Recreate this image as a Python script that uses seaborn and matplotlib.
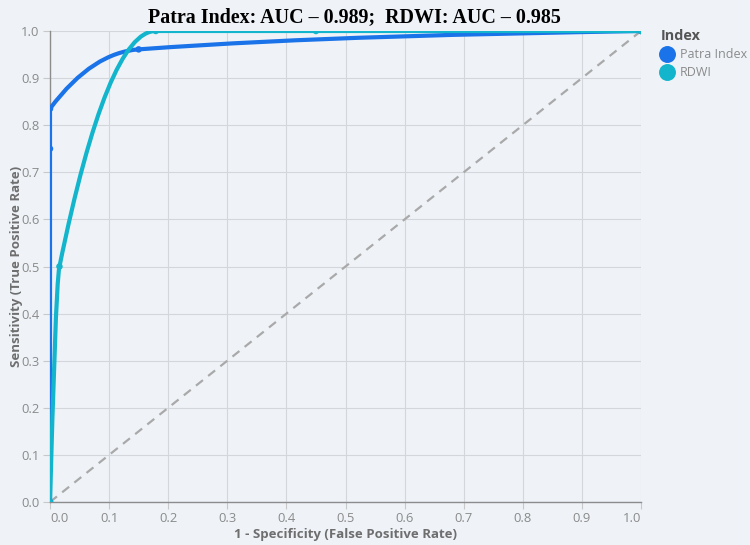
import numpy as np
import pandas as pd
import seaborn as sns
import matplotlib.pyplot as plt
from matplotlib.path import Path
from matplotlib.patches import PathPatch

# ROC points
patra_fpr = [0.0, 0.0, 0.0, 0.15, 1.0]
patra_tpr = [0.0, 0.75, 0.835, 0.961, 1.0]
rdwi_fpr = [0.0, 0.016, 0.179, 0.45, 1.0]
rdwi_tpr = [0.0, 0.5, 1.0, 1.0, 1.0]

index_names = ['Patra Index', 'RDWI']
index_colors = ['#1a73e8', '#12b5cb']
diag = [0.0, 1.0]
ticks = [0.0, 0.1, 0.2, 0.3, 0.4, 0.5, 0.6, 0.7, 0.8, 0.9, 1.0]
tick_labels = ['0.0', '0.1', '0.2', '0.3', '0.4', '0.5', '0.6', '0.7', '0.8', '0.9', '1.0']
title = 'Patra Index: AUC – 0.989;  RDWI: AUC – 0.985'

BG = '#eff3f8'
GRID = '#d3d6da'


def monotone_path(xs, ys):
    # monotone cubic interpolation (same rule as d3 curveMonotoneX) as a bezier path
    x = np.asarray(xs, float)
    y = np.asarray(ys, float)
    n = len(x)
    h = np.diff(x)
    dy = np.diff(y)
    s = [dy[i] / h[i] if h[i] else np.inf * np.sign(dy[i]) for i in range(n - 1)]
    t = np.zeros(n)
    for i in range(1, n - 1):
        h0, h1 = h[i - 1], h[i]
        if h0 == 0 and h1 == 0:
            continue
        p = (s[i - 1] * h1 + s[i] * h0) / (h0 + h1)
        t[i] = (np.sign(s[i - 1]) + np.sign(s[i])) * min(abs(s[i - 1]), abs(s[i]), 0.5 * abs(p))
    t[0] = (3 * s[0] - t[1]) / 2 if h[0] else t[1]
    t[-1] = (3 * s[-1] - t[-2]) / 2 if h[-1] else t[-2]

    verts = [(x[0], y[0])]
    codes = [Path.MOVETO]
    for i in range(n - 1):
        if h[i] == 0:
            verts.append((x[i + 1], y[i + 1]))
            codes.append(Path.LINETO)
            continue
        d = h[i] / 3
        verts += [(x[i] + d, y[i] + d * t[i]),
                  (x[i + 1] - d, y[i + 1] - d * t[i + 1]),
                  (x[i + 1], y[i + 1])]
        codes += [Path.CURVE4] * 3
    return Path(verts, codes)


df = pd.concat([
    pd.DataFrame({'fpr': patra_fpr, 'tpr': patra_tpr, 'Index': index_names[0]}),
    pd.DataFrame({'fpr': rdwi_fpr, 'tpr': rdwi_tpr, 'Index': index_names[1]}),
], ignore_index=True)

sns.set_theme(style='whitegrid', rc={
    'figure.facecolor': BG,
    'axes.facecolor': BG,
    'grid.color': GRID,
    'grid.linewidth': 0.8,
    'axes.edgecolor': '#8c8c8c',
})
plt.rcParams['font.family'] = ['Open Sans', 'DejaVu Sans']

fig = plt.figure(figsize=(7.5, 5.45), dpi=100)
ax = fig.add_axes([50 / 750, 43 / 545, 591 / 750, 471 / 545])

# reference diagonal
sns.lineplot(x=diag, y=diag, ax=ax, color='#a9a9a9', linewidth=1.6,
             linestyle=(0, (4, 3)), zorder=2)

for xs, ys, c in zip([patra_fpr, rdwi_fpr], [patra_tpr, rdwi_tpr], index_colors):
    ax.add_patch(PathPatch(monotone_path(xs, ys), facecolor='none', edgecolor=c,
                           linewidth=3, capstyle='round', joinstyle='round', zorder=3))

sns.scatterplot(data=df, x='fpr', y='tpr', hue='Index', hue_order=index_names,
                palette=index_colors, s=22, linewidth=0, ax=ax, zorder=4)

ax.set_xlim(0, 1)
ax.set_ylim(0, 1)
ax.set_xticks(ticks, tick_labels)
ax.set_yticks(ticks, tick_labels)
ax.set_axisbelow(True)
for side in ['top', 'right']:
    ax.spines[side].set_visible(False)
for side in ['left', 'bottom']:
    ax.spines[side].set_linewidth(1.0)
    ax.spines[side].set_zorder(2.5)

ax.tick_params(axis='both', length=5, width=0.8, color='#c8c8c8', labelcolor='#8a8a8a',
               labelsize=9.4, pad=2.5, bottom=True, left=True)
xl = ax.get_xticklabels()
xl[0].set_horizontalalignment('left')
xl[-1].set_horizontalalignment('right')

ax.set_xlabel('1 - Specificity (False Positive Rate)', fontsize=9.5, fontweight='bold',
              color='#6e6e6e', labelpad=2)
ax.set_ylabel('Sensitivity (True Positive Rate)', fontsize=9.5, fontweight='bold',
              color='#6e6e6e', labelpad=-1)

handles, labels = ax.get_legend_handles_labels()
ax.get_legend().remove()
leg = fig.legend(handles, labels, loc='upper left', bbox_to_anchor=(661 / 750, 1 - 29 / 545),
                 frameon=False, title='Index', alignment='left', markerscale=2.6,
                 handletextpad=0.5, labelspacing=0.42, borderaxespad=0, borderpad=0,
                 handlelength=1.0, fontsize=9.0, labelcolor='#8a8a8a',
                 title_fontproperties={'weight': 'bold', 'size': 10.4})
leg.get_title().set_color('#555555')

fig.text(354 / 750, 1 - 17 / 545, title, ha='center', va='center', fontsize=14.4,
         fontweight='bold', family='Liberation Serif', color='black')

fig.savefig('out.png', dpi=100, facecolor=BG)
